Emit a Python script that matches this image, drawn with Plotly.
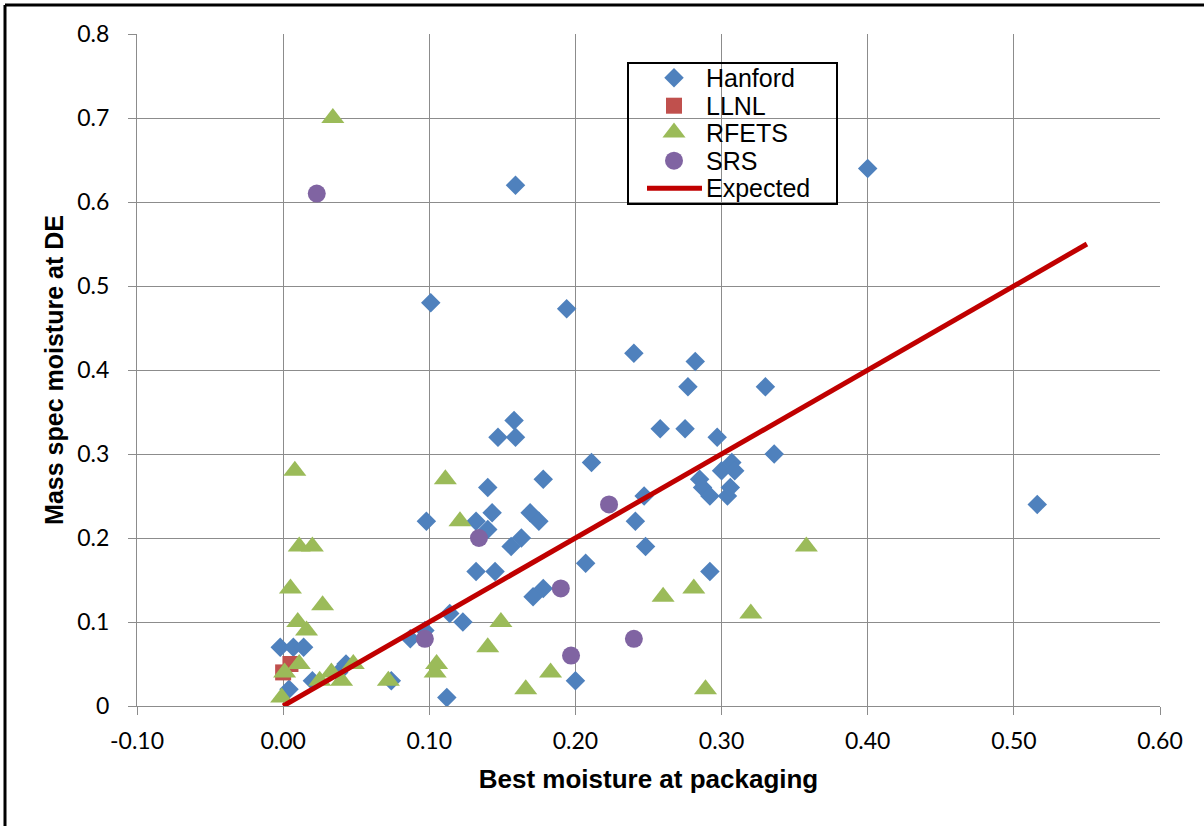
import plotly.graph_objects as go

# ---------------- data ----------------
hanford_x = [-0.002, 0.007, 0.014, 0.004, 0.020, 0.038, 0.043, 0.074, 0.087, 0.097,
             0.098, 0.101, 0.112, 0.114, 0.123, 0.132, 0.132, 0.140, 0.140, 0.143,
             0.145, 0.147, 0.156, 0.158, 0.159, 0.159, 0.163, 0.169, 0.171, 0.175,
             0.178, 0.178, 0.194, 0.200, 0.207, 0.211, 0.240, 0.241, 0.247, 0.248,
             0.258, 0.275, 0.277, 0.282, 0.285, 0.287, 0.292, 0.292, 0.297, 0.300,
             0.304, 0.306, 0.307, 0.309, 0.330, 0.336, 0.400, 0.516]
hanford_y = [0.07, 0.07, 0.07, 0.02, 0.03, 0.04, 0.05, 0.03, 0.08, 0.09,
             0.22, 0.48, 0.01, 0.11, 0.10, 0.22, 0.16, 0.26, 0.21, 0.23,
             0.16, 0.32, 0.19, 0.34, 0.32, 0.62, 0.20, 0.23, 0.13, 0.22,
             0.27, 0.14, 0.473, 0.03, 0.17, 0.29, 0.42, 0.22, 0.25, 0.19,
             0.33, 0.33, 0.38, 0.41, 0.27, 0.26, 0.25, 0.16, 0.32, 0.28,
             0.25, 0.26, 0.29, 0.28, 0.38, 0.30, 0.64, 0.24]

llnl_x = [0.005, 0.000]
llnl_y = [0.05, 0.04]

rfets_x = [-0.001, 0.001, 0.005, 0.008, 0.010, 0.011, 0.011, 0.016, 0.020, 0.025,
           0.027, 0.033, 0.034, 0.040, 0.048, 0.072, 0.104, 0.105, 0.111, 0.121,
           0.140, 0.149, 0.166, 0.183, 0.260, 0.281, 0.289, 0.320, 0.358]
rfets_y = [0.01, 0.04, 0.14, 0.28, 0.10, 0.05, 0.19, 0.09, 0.19, 0.03,
           0.12, 0.04, 0.70, 0.03, 0.05, 0.03, 0.04, 0.05, 0.27, 0.22,
           0.07, 0.10, 0.02, 0.04, 0.13, 0.14, 0.02, 0.11, 0.19]

srs_x = [0.023, 0.097, 0.134, 0.190, 0.197, 0.223, 0.240]
srs_y = [0.61, 0.08, 0.20, 0.14, 0.06, 0.24, 0.08]

expected_x = [0.0, 0.55]
expected_y = [0.0, 0.55]

series_names = ["Hanford", "LLNL", "RFETS", "SRS", "Expected"]
x_tickvals = [-0.10, 0.00, 0.10, 0.20, 0.30, 0.40, 0.50, 0.60]
x_ticktext = ["-0.10", "0.00", "0.10", "0.20", "0.30", "0.40", "0.50", "0.60"]
y_tickvals = [0, 0.1, 0.2, 0.3, 0.4, 0.5, 0.6, 0.7, 0.8]
y_ticktext = ["0", "0.1", "0.2", "0.3", "0.4", "0.5", "0.6", "0.7", "0.8"]

# ---------------- style ----------------
C_HAN = "#4F81BD"
C_LLNL = "#C0504D"
C_RF = "#9BBB59"
C_SRS = "#8064A2"
C_EXP = "#C00000"
GRID = "#8C8C8C"

W, H = 1204, 826
L, R, T, B = 137, 44, 34, 120

def px2paper_x(px):
    return (px - L) / (W - L - R)

def px2paper_y(py):
    return (H - B - py) / (H - T - B)

styles = [
    dict(symbol="diamond", size=15, color=C_HAN),
    dict(symbol="square", size=16, color=C_LLNL),
    dict(symbol="triangle-up", size=20, color=C_RF),
    dict(symbol="circle", size=18, color=C_SRS),
]

fig = go.Figure()
for name, xs, ys, st in zip(series_names[:4],
                            [hanford_x, llnl_x, rfets_x, srs_x],
                            [hanford_y, llnl_y, rfets_y, srs_y],
                            styles):
    fig.add_trace(go.Scatter(x=xs, y=ys, mode="markers", name=name,
                             marker=dict(symbol=st["symbol"], size=st["size"],
                                         color=st["color"], line=dict(width=0)),
                             showlegend=False))

fig.add_trace(go.Scatter(x=expected_x, y=expected_y, mode="lines", name="Expected",
                         line=dict(color=C_EXP, width=5), showlegend=False))

# ---------------- manual legend (overlay axis in paper fractions) ----------------
leg_left, leg_right, leg_top, leg_bottom = 628, 837, 63, 204
row_y = [77.7, 105.7, 132.5, 160.7, 188.3]
sym_x = 674
text_x = 704

for i in range(4):
    st = styles[i]
    fig.add_trace(go.Scatter(x=[px2paper_x(sym_x)], y=[px2paper_y(row_y[i])],
                             xaxis="x2", yaxis="y2", mode="markers",
                             marker=dict(symbol=st["symbol"], size=st["size"],
                                         color=st["color"], line=dict(width=0)),
                             showlegend=False, hoverinfo="skip"))
fig.add_trace(go.Scatter(x=[px2paper_x(647), px2paper_x(702)],
                         y=[px2paper_y(row_y[4])] * 2,
                         xaxis="x2", yaxis="y2", mode="lines",
                         line=dict(color=C_EXP, width=5),
                         showlegend=False, hoverinfo="skip"))

annotations = []
for i, name in enumerate(series_names):
    annotations.append(dict(x=px2paper_x(text_x), y=px2paper_y(row_y[i]),
                            xref="paper", yref="paper", text=name,
                            showarrow=False, xanchor="left", yanchor="middle",
                            font=dict(family="Liberation Sans, Arial", size=25,
                                      color="black")))

shapes = [
    # legend box
    dict(type="rect", xref="paper", yref="paper",
         x0=px2paper_x(leg_left), x1=px2paper_x(leg_right),
         y0=px2paper_y(leg_bottom), y1=px2paper_y(leg_top),
         line=dict(color="black", width=2), fillcolor="rgba(255,255,255,0)",
         layer="above"),
    # outer chart frame (top and left edges visible)
    dict(type="line", xref="paper", yref="paper",
         x0=px2paper_x(5), x1=px2paper_x(1215), y0=px2paper_y(5), y1=px2paper_y(5),
         line=dict(color="black", width=3)),
    dict(type="line", xref="paper", yref="paper",
         x0=px2paper_x(5), x1=px2paper_x(5), y0=px2paper_y(5), y1=px2paper_y(840),
         line=dict(color="black", width=3)),
]

tick_font = dict(family="Lato, Carlito, Calibri", size=23, color="black")

fig.update_layout(
    width=W, height=H,
    margin=dict(l=L, r=R, t=T, b=B, pad=0),
    paper_bgcolor="white", plot_bgcolor="white",
    showlegend=False,
    annotations=annotations,
    shapes=shapes,
    xaxis=dict(range=[-0.1, 0.6], tickvals=x_tickvals, ticktext=x_ticktext,
               showgrid=True, gridcolor=GRID, gridwidth=1,
               zeroline=False, showline=True, linecolor=GRID, linewidth=1,
               ticks="outside", ticklen=8, tickcolor=GRID, tickwidth=1,
               tickfont=tick_font, ticklabelstandoff=6,
               title=dict(text="<b>Best moisture at packaging</b>",
                          font=dict(family="Liberation Sans, Arial", size=26,
                                    color="black"),
                          standoff=17)),
    yaxis=dict(range=[0, 0.8], tickvals=y_tickvals, ticktext=y_ticktext,
               showgrid=True, gridcolor=GRID, gridwidth=1,
               zeroline=False, showline=True, linecolor=GRID, linewidth=1,
               ticks="outside", ticklen=8, tickcolor=GRID, tickwidth=1,
               tickfont=tick_font, ticklabelstandoff=14,
               title=dict(text="<b>Mass spec moisture at DE</b>",
                          font=dict(family="Liberation Sans, Arial", size=25,
                                    color="black"),
                          standoff=6)),
    xaxis2=dict(range=[0, 1], overlaying="x", visible=False, fixedrange=True),
    yaxis2=dict(range=[0, 1], overlaying="y", visible=False, fixedrange=True),
)

fig.write_html("out.html", config={"displayModeBar": False},
               post_script="document.body.style.margin='0';document.body.style.overflow='hidden';")
